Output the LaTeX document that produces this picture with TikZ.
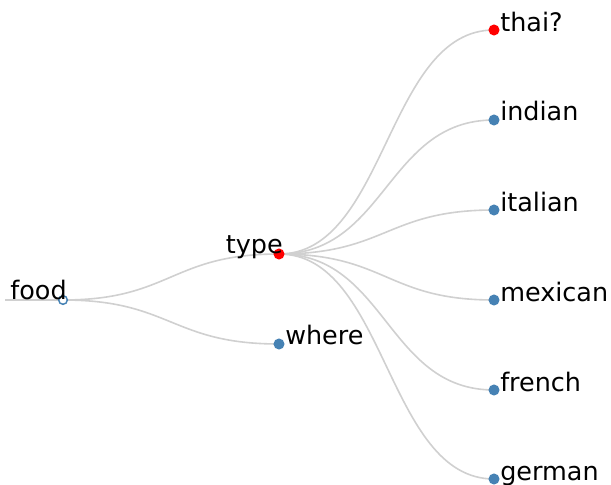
\documentclass[tikz,border=0pt]{standalone}
\usepackage{fontspec}
\setmainfont{DejaVu Sans}
\usetikzlibrary{calc,backgrounds}
\definecolor{steel}{RGB}{70,130,180}
\definecolor{linkgray}{RGB}{208,208,208}
\tikzset{
  dot/.style={circle, fill=steel, inner sep=0pt, minimum size=8.3pt},
  hotdot/.style={dot, fill=red},
  rootdot/.style={dot, fill=white, draw=steel, line width=1.1pt, minimum size=6.5pt},
  link/.style={draw=linkgray, line width=1.2pt},
  lbl/.style={inner sep=0pt, font=\fontsize{19.1}{22}\selectfont},
}
% horizontal tree link, control points half way
\newcommand{\branch}[2]{%
  \draw[link] let \p1=(#1.center), \p2=(#2.center) in
    (\p1) .. controls ({(\x1+\x2)/2},\y1) and ({(\x1+\x2)/2},\y2) .. (\p2);}
\begin{document}
\begin{tikzpicture}[x=0.75pt, y=-0.75pt]
    \useasboundingbox (0,0) rectangle (611,485);

    % Root and inner nodes
    \node[rootdot] (food) at (63,300) {};
    \node[hotdot] (type) at (279,254) {};
    \node[dot] (where) at (279,344) {};
    \coordinate (stub) at (5,300);

    % Leaves
    \node[hotdot] (thai) at (494,30) {};
    \foreach \name/\y in {indian/120, italian/210, mexican/300, french/390, german/479}
        \node[dot] (\name) at (494,\y) {};

    % Labels
    \node[lbl, anchor=base east] (food-lbl) at ($(food)+(4,-1)$) {food};
    \node[lbl, anchor=base east] (type-lbl) at ($(type)+(4,-1)$) {type};
    \node[lbl, anchor=base west] (where-lbl) at ($(where)+(6,0)$) {where};
    \node[lbl, anchor=base west] (thai-lbl) at ($(thai)+(6,2)$) {thai?};
    \foreach \name in {indian, italian, mexican, french, german}
        \node[lbl, anchor=base west] (\name-lbl) at ($(\name)+(6,1)$) {\name};

    % Links
    \begin{scope}[on background layer]
        \draw[link] (stub) -- (food.center);
        \branch{food}{type}
        \branch{food}{where}
        \foreach \name in {thai, indian, italian, mexican, french, german}
            {\branch{type}{\name}}
    \end{scope}
\end{tikzpicture}
\end{document}
